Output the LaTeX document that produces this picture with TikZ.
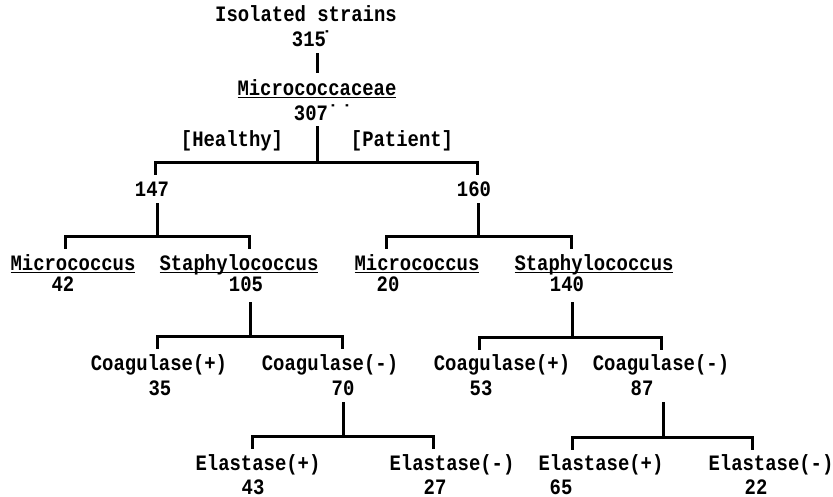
\documentclass[tikz,border=0pt]{standalone}
\usepackage{fontspec}
\setmonofont[FakeStretch=0.86]{Liberation Mono}
\usepackage{tikz}
\usetikzlibrary{calc, positioning}
\newcommand{\ul}[1]{\underline{\smash{#1}}}
\newcommand{\dt}[1]{\rlap{\kern#1˙}}

\begin{document}
\begin{tikzpicture}[x=1pt, y=-1pt,
    lbl/.style={font=\fontsize{22}{24}\ttfamily\bfseries, inner sep=0pt, anchor=base},
    bar/.style={line width=3pt, line cap=rect, line join=miter}]
    \useasboundingbox (0,0) rectangle (833,497);
    % labels
    \node[lbl] (top) at (306, 22) {Isolated strains};
    \node[lbl] (n315) at (309, 47) {315\dt{-4.6pt}};
    \node[lbl] (fam) at (317, 96) {\ul{Micrococcaceae}};
    \node[lbl] (n307) at (311, 121) {307\dt{-0.6pt}\dt{13.3pt}};
    \node[lbl] (healthy) at (232, 147) {[Healthy]};
    \node[lbl] (patient) at (402, 147) {[Patient]};
    \node[lbl] (n147) at (152, 197) {147};
    \node[lbl] (n160) at (474, 197) {160};
    \node[lbl] (micL) at (73, 271) {\ul{Micrococcus}};
    \node[lbl] (n42) at (63, 291) {42};
    \node[lbl] (staL) at (239, 271) {\ul{Staphylococcus}};
    \node[lbl] (n105) at (246, 291) {105};
    \node[lbl] (micR) at (417, 271) {\ul{Micrococcus}};
    \node[lbl] (n20) at (388, 291) {20};
    \node[lbl] (staR) at (594, 271) {\ul{Staphylococcus}};
    \node[lbl] (n140) at (567, 291) {140};
    \node[lbl] (coaLp) at (159, 370) {Coagulase(+)};
    \node[lbl] (n35) at (160, 395) {35};
    \node[lbl] (coaLm) at (330, 370) {Coagulase(-)};
    \node[lbl] (n70) at (343, 395) {70};
    \node[lbl] (coaRp) at (502, 370) {Coagulase(+)};
    \node[lbl] (n53) at (481, 395) {53};
    \node[lbl] (coaRm) at (661, 370) {Coagulase(-)};
    \node[lbl] (n87) at (642, 395) {87};
    \node[lbl] (elaLp) at (258, 470) {Elastase(+)};
    \node[lbl] (n43) at (253, 494) {43};
    \node[lbl] (elaLm) at (452, 470) {Elastase(-)};
    \node[lbl] (n27) at (435, 494) {27};
    \node[lbl] (elaRp) at (601, 470) {Elastase(+)};
    \node[lbl] (n65) at (561, 494) {65};
    \node[lbl] (elaRm) at (771, 470) {Elastase(-)};
    \node[lbl] (n22) at (756, 494) {22};
    % stem below the strain count
    \coordinate (s315) at (317, 55);
    \coordinate (e315) at (317, 72);
    \draw[bar] (s315) -- (e315);
    % forks: name / stem x / stem top / bar y / left tick / right tick
    \foreach \f/\sx/\sy/\by/\lx/\rx in {
        f0/317/128/163/155/477,
        f1/157/205/237/65/249,
        f2/478/205/237/386/571,
        f3/250/303/336/157/342,
        f4/572/303/337/479/661,
        f5/343/403/436/252/433,
        f6/663/403/437/572/752} {
        \coordinate (\f s) at (\sx, \sy);
        \coordinate (\f j) at (\sx, \by);
        \coordinate (\f l) at (\lx, \by+11);
        \coordinate (\f r) at (\rx, \by+11);
        \draw[bar] (\f s) -- (\f j);
        \draw[bar] (\f l) |- (\f j) -| (\f r);
    }
\end{tikzpicture}
\end{document}
